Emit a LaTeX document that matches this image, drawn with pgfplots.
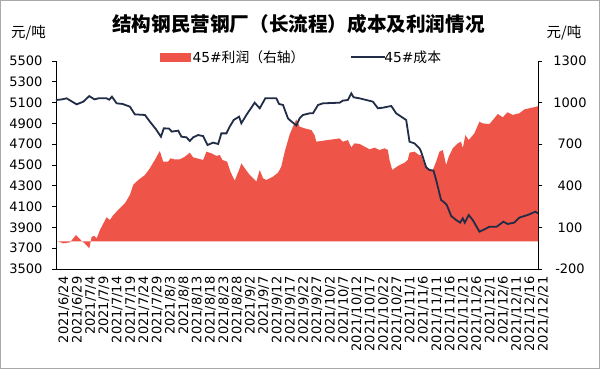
\documentclass[border=0pt]{standalone}
\usepackage{pgfplots}
\usepackage{pgfplotstable}
\pgfplotsset{compat=1.18}
\usepackage{fontspec}
\setmainfont{DejaVu Sans}
\newfontfamily\cjk{Noto Sans CJK SC}
\definecolor{profitred}{RGB}{238,84,72}
\definecolor{costblue}{RGB}{33,44,70}
\definecolor{framegray}{RGB}{170,170,170}

\pgfplotstableread{
day cost
0 5125
2 5130
4 5141
6 5110
7.75 5083
10.25 5109
12.5 5163
14.4 5131
16 5141
19 5141
20 5128
21 5157
22.75 5093
25 5087
27.75 5061
29.6 4987
33.4 4981
35.25 4917
37.5 4845
39.4 4772
40.5 4853
42.4 4850
43.5 4821
45.9 4830
47.1 4772
49 4766
50.25 4731
51.5 4766
53.4 4788
55.25 4778
56.9 4692
59 4715
60.9 4702
62.1 4804
64 4804
65.25 4869
66.75 4933
68.75 4965
69.6 4901
71.5 4981
74.6 5099
76.5 5045
78.6 5141
82.75 5141
83.75 5087
85.25 5077
87.1 4949
87.75 4933
90.25 4880
91.5 4949
92.75 4981
95.25 4997
96.5 4997
98.4 5077
100.25 5093
106.5 5099
107.75 5119
109.6 5125
110.9 5189
111.75 5151
114 5141
119 5109
120.9 5045
122.75 5051
124.6 5061
125.9 5067
127.75 4997
131.5 4933
132.75 4724
134.6 4708
136.5 4660
137.1 4628
139 4478
140.25 4452
141.75 4446
142.75 4356
144.6 4164
145.9 4138
146.75 4115
148.4 4010
150.25 3971
151.75 3946
152.75 3987
153.5 3946
155 4019
156.5 3971
159 3859
160.9 3881
162.75 3907
165.5 3907
168 3955
169.6 3933
172.1 3946
174 3994
177.1 4019
180 4051
181 4035
}\costtable

\pgfplotstableread{
day profit
0 5
2.75 -15
5.25 -8
7.5 45
9.6 3
10.75 -15
12.5 -51
13.4 33
14.4 38
15.25 21
16.5 81
19 173
20.25 153
21.5 189
24 238
25.9 274
27.75 334
29 406
30.9 442
33.4 478
35.25 526
37.1 586
39 651
40.25 574
42.1 574
43 598
44.6 590
46.5 591
48.4 610
50.25 639
51.5 605
53.4 596
55.25 586
56.5 646
58.4 634
60.25 615
61.5 622
62.5 586
64.25 574
65.5 502
67.1 437
68.75 514
69.6 562
70.9 526
72.75 478
75.25 430
76.5 514
77.75 454
79 442
81.5 466
83.4 495
84.6 538
85.9 646
87.75 770
89 826
90.25 879
91.5 826
93.4 814
95.9 802
97.1 766
97.75 718
100.25 725
104 735
106.5 742
107.75 718
109.6 730
110.9 677
112.1 706
114 702
115.9 682
117.75 663
119.6 675
121.5 658
123.4 670
124.6 658
125.25 586
126.25 514
128.4 543
130.9 567
132.1 586
132.75 639
134.6 646
136.5 620
137.1 622
138.4 550
139.6 519
141.5 514
142.75 574
144 646
145.25 658
146.5 550
147.5 610
149 670
150.9 706
152.1 718
152.75 670
153.75 766
155 730
157.1 778
159 862
160.25 850
162.75 845
164.6 887
165.9 918
167.75 894
169.6 930
171.5 911
174 923
175.9 951
177.75 959
180.5 971
181 975
}\profittable

\begin{document}
\begin{tikzpicture}
\useasboundingbox (-56pt,-100pt) rectangle (544pt,269pt);
\fill[white] (-56pt,-100pt) rectangle (544pt,269pt);
\draw[framegray, line width=1pt] (-55.5pt,-99.5pt) rectangle (543.5pt,268.5pt);
\pgfplotsset{common/.style={
  width=482pt, height=208pt, scale only axis,
  xmin=0, xmax=181,
  xtick={0,5,...,180},
  /pgf/number format/assume math mode=true,
  /pgf/number format/1000 sep={},
  tick align=outside,
  major tick length=4pt,
  xtick style={draw=none},
  ytick style={black, line width=0.8pt},
  axis line style={black, line width=0.8pt},
  tick label style={font=\fontsize{13}{15}\selectfont},
}}
\begin{axis}[common,
  axis y line*=right, axis x line=none,
  ymin=-200, ymax=1300, ytick={-200,100,...,1300},
  yticklabel style={anchor=center, xshift=28pt},
]
\addplot[fill=profitred, draw=none] table[x=day, y=profit] {\profittable} \closedcycle;
\end{axis}
\begin{axis}[common,
  axis y line*=left, axis x line*=bottom,
  ymin=3500, ymax=5500, ytick={3500,3700,...,5500},
  yticklabel style={xshift=-6pt},
  xticklabels={2021/6/24,2021/6/29,2021/7/4,2021/7/9,2021/7/14,2021/7/19,2021/7/24,2021/7/29,2021/8/3,2021/8/8,2021/8/13,2021/8/18,2021/8/23,2021/8/28,2021/9/2,2021/9/7,2021/9/12,2021/9/17,2021/9/22,2021/9/27,2021/10/2,2021/10/7,2021/10/12,2021/10/17,2021/10/22,2021/10/27,2021/11/1,2021/11/6,2021/11/11,2021/11/16,2021/11/21,2021/11/26,2021/12/1,2021/12/6,2021/12/11,2021/12/16,2021/12/21},
  xticklabel style={rotate=90, anchor=east, yshift=-8pt},
  legend columns=2,
  legend style={draw=none, fill=none, at={(0.2158,1.019)}, anchor=west, font=\fontsize{13.8}{15}\selectfont, inner sep=0pt},
]
\addlegendimage{legend image code/.code={\fill[profitred] (0pt,-4.2pt) rectangle (30pt,4.2pt);}}
\addlegendentry{45\#{\cjk 利润（右轴）}\hspace{44pt}\mbox{}}
\addplot[costblue, line width=1.8pt, legend image code/.code={\path (0pt,0pt) -- (4pt,0pt);\draw[costblue, line width=1.8pt] (4pt,0pt) -- (34pt,0pt);}] table[x=day, y=cost] {\costtable};
\addlegendentry{\hspace{-4pt}45\#{\cjk 成本}}
\end{axis}
\node[font=\cjk\bfseries\fontsize{19.6}{22}\selectfont] at (242.4pt,245pt) {结构钢民营钢厂（长流程）成本及利润情况};
\node[font=\cjk\fontsize{14.5}{16}\selectfont] at (-27.5pt,236pt) {元/吨};
\node[font=\cjk\fontsize{14.5}{16}\selectfont] at (508pt,236pt) {元/吨};
\end{tikzpicture}
\end{document}
